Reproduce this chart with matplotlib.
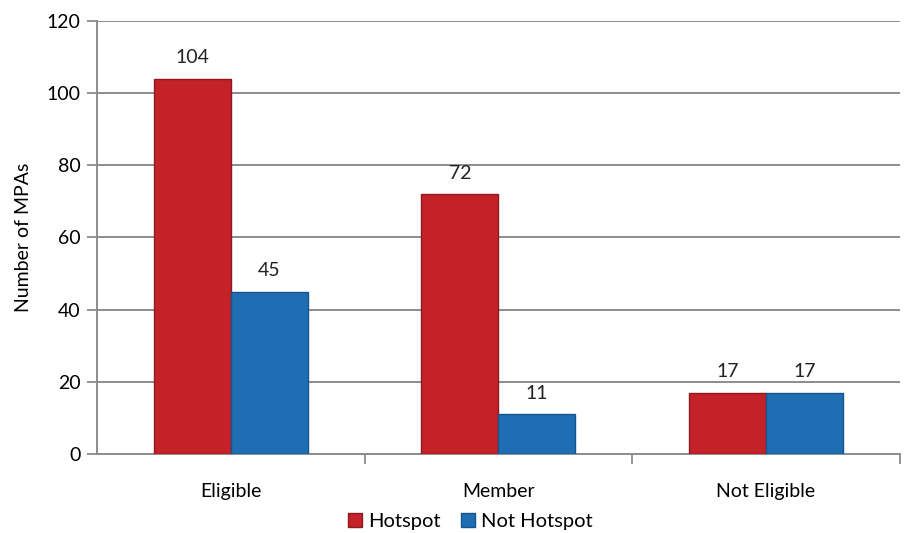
import numpy as np
import matplotlib.pyplot as plt
from matplotlib.ticker import FixedLocator

# data
categories = ['Eligible', 'Member', 'Not Eligible']
hotspot = [104, 72, 17]
not_hotspot = [45, 11, 17]

plt.rcParams['font.family'] = ['Lato', 'DejaVu Sans']

fig = plt.figure(figsize=(9.07, 5.33), dpi=100)
ax = fig.add_axes([0.107, 0.148, 0.885, 0.813])

x = np.arange(len(categories))
w = 0.288
grid_c = '#8c8c8c'
fs = 14

b1 = ax.bar(x - w/2, hotspot, w, color='#c42128', edgecolor='#8e1a1f',
            linewidth=1, label='Hotspot', zorder=3)
b2 = ax.bar(x + w/2, not_hotspot, w, color='#1f6db3', edgecolor='#16548a',
            linewidth=1, label='Not Hotspot', zorder=3)

for bars in (b1, b2):
    ax.bar_label(bars, padding=9, fontsize=fs, color='#222222')

ax.set_xlim(-0.5, len(categories) - 0.5)
ax.set_ylim(0, 120)
ax.set_yticks(range(0, 121, 20))
ax.set_xticks(x)
ax.set_xticklabels(categories, fontsize=fs)
ax.tick_params(axis='y', labelsize=fs, length=7, color=grid_c, width=1.3, pad=5)
ax.tick_params(axis='x', length=0, pad=21)
ax.xaxis.set_minor_locator(FixedLocator([0.5, 1.5, 2.5]))
ax.tick_params(axis='x', which='minor', length=7, color=grid_c, width=1.3)

ax.yaxis.grid(True, color=grid_c, linewidth=1.4, zorder=0)
ax.set_axisbelow(True)
for s in ('top', 'right'):
    ax.spines[s].set_visible(False)
for s in ('left', 'bottom'):
    ax.spines[s].set_color(grid_c)
    ax.spines[s].set_linewidth(1.4)

ax.set_ylabel('Number of MPAs', fontsize=fs, labelpad=10)

ax.legend(loc='center', bbox_to_anchor=(0.465, -0.155), ncol=2, frameon=False,
          fontsize=fs + 0.5, handlelength=0.7, handleheight=0.7, handletextpad=0.3,
          columnspacing=1.0, borderpad=0)

fig.savefig('out.png', dpi=100)
